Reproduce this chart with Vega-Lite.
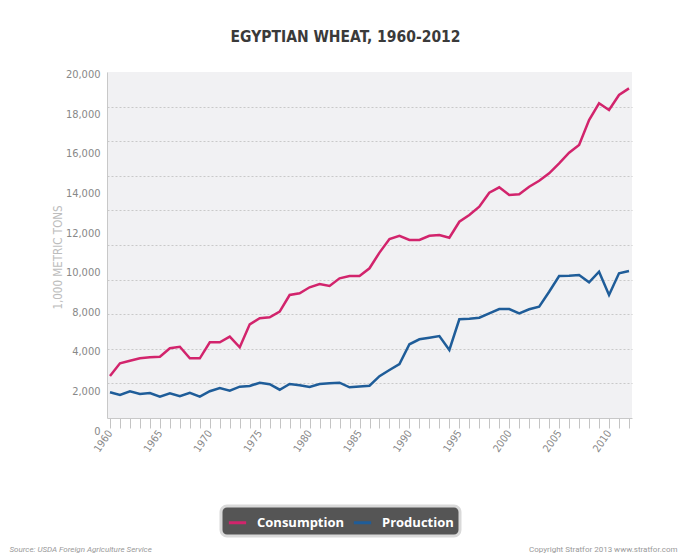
{
  "$schema": "https://vega.github.io/schema/vega-lite/v6.json",
  "width": 525,
  "height": 346,
  "autosize": "none",
  "padding": {"left": 107, "top": 72, "right": 51, "bottom": 140},
  "background": "white",
  "title": {
    "text": "EGYPTIAN WHEAT, 1960-2012",
    "font": "DejaVu Sans Condensed, Roboto, sans-serif",
    "fontSize": 15.5,
    "fontWeight": "bold",
    "color": "#3a3a3a",
    "anchor": "middle",
    "dx": -24,
    "offset": 23
  },
  "data": {
    "values": [
      {"year": 1960, "Consumption": 2430, "Production": 1490},
      {"year": 1961, "Consumption": 3160, "Production": 1330},
      {"year": 1962, "Consumption": 3310, "Production": 1540},
      {"year": 1963, "Consumption": 3450, "Production": 1390},
      {"year": 1964, "Consumption": 3510, "Production": 1445},
      {"year": 1965, "Consumption": 3545, "Production": 1230},
      {"year": 1966, "Consumption": 4030, "Production": 1430},
      {"year": 1967, "Consumption": 4120, "Production": 1255},
      {"year": 1968, "Consumption": 3450, "Production": 1460},
      {"year": 1969, "Consumption": 3450, "Production": 1230},
      {"year": 1970, "Consumption": 4375, "Production": 1545},
      {"year": 1971, "Consumption": 4375, "Production": 1735},
      {"year": 1972, "Consumption": 4700, "Production": 1580},
      {"year": 1973, "Consumption": 4085, "Production": 1810},
      {"year": 1974, "Consumption": 5415, "Production": 1850},
      {"year": 1975, "Consumption": 5765, "Production": 2040},
      {"year": 1976, "Consumption": 5820, "Production": 1950},
      {"year": 1977, "Consumption": 6145, "Production": 1635},
      {"year": 1978, "Consumption": 7110, "Production": 1965},
      {"year": 1979, "Consumption": 7210, "Production": 1890},
      {"year": 1980, "Consumption": 7555, "Production": 1790},
      {"year": 1981, "Consumption": 7745, "Production": 1965},
      {"year": 1982, "Consumption": 7630, "Production": 2005},
      {"year": 1983, "Consumption": 8075, "Production": 2040},
      {"year": 1984, "Consumption": 8210, "Production": 1775},
      {"year": 1985, "Consumption": 8210, "Production": 1820},
      {"year": 1986, "Consumption": 8655, "Production": 1865},
      {"year": 1987, "Consumption": 9560, "Production": 2420},
      {"year": 1988, "Consumption": 10345, "Production": 2775},
      {"year": 1989, "Consumption": 10535, "Production": 3120},
      {"year": 1990, "Consumption": 10290, "Production": 4260},
      {"year": 1991, "Consumption": 10290, "Production": 4550},
      {"year": 1992, "Consumption": 10535, "Production": 4640},
      {"year": 1993, "Consumption": 10575, "Production": 4740},
      {"year": 1994, "Consumption": 10420, "Production": 3930},
      {"year": 1995, "Consumption": 11345, "Production": 5705},
      {"year": 1996, "Consumption": 11735, "Production": 5740},
      {"year": 1997, "Consumption": 12215, "Production": 5795},
      {"year": 1998, "Consumption": 13020, "Production": 6050},
      {"year": 1999, "Consumption": 13335, "Production": 6300},
      {"year": 2000, "Consumption": 12890, "Production": 6300},
      {"year": 2001, "Consumption": 12930, "Production": 6050},
      {"year": 2002, "Consumption": 13370, "Production": 6285},
      {"year": 2003, "Consumption": 13715, "Production": 6435},
      {"year": 2004, "Consumption": 14145, "Production": 7300},
      {"year": 2005, "Consumption": 14720, "Production": 8210},
      {"year": 2006, "Consumption": 15335, "Production": 8225},
      {"year": 2007, "Consumption": 15780, "Production": 8265},
      {"year": 2008, "Consumption": 17225, "Production": 7845},
      {"year": 2009, "Consumption": 18190, "Production": 8455},
      {"year": 2010, "Consumption": 17800, "Production": 7110},
      {"year": 2011, "Consumption": 18670, "Production": 8365},
      {"year": 2012, "Consumption": 19055, "Production": 8495}
    ]
  },
  "encoding": {
    "x": {
      "field": "year",
      "type": "quantitative",
      "scale": {"domain": [1960, 2012], "nice": false, "zero": false, "padding": 3},
      "axis": {
        "values": [1960,1961,1962,1963,1964,1965,1966,1967,1968,1969,1970,1971,1972,1973,1974,1975,1976,1977,1978,1979,1980,1981,1982,1983,1984,1985,1986,1987,1988,1989,1990,1991,1992,1993,1994,1995,1996,1997,1998,1999,2000,2001,2002,2003,2004,2005,2006,2007,2008,2009,2010,2011,2012],
        "labelExpr": "datum.value % 5 == 0 ? '' + datum.value : ''",
        "labelAngle": -55,
        "labelAlign": "right",
        "labelBaseline": "middle",
        "labelPadding": 3,
        "labelFont": "DejaVu Sans Condensed, Roboto, sans-serif",
        "labelFontSize": 10.5,
        "labelColor": "#888888",
        "labelOverlap": false,
        "labelFlush": false,
        "labelBound": false,
        "grid": false,
        "tickSize": 10,
        "tickColor": "#c4c4c4",
        "domainColor": "#c8c8c8",
        "title": "Source: USDA Foreign Agriculture Service",
        "titleX": -98,
        "titleY": 133,
        "titleAlign": "left",
        "titleBaseline": "alphabetic",
        "titleFont": "Roboto",
        "titleFontStyle": "italic",
        "titleFontWeight": "normal",
        "titleFontSize": 8,
        "titleColor": "#999999"
      }
    }
  },
  "layer": [
    {
      "mark": {"type": "line", "strokeWidth": 2.5},
      "encoding": {
        "y": {
          "field": "Consumption",
          "type": "quantitative",
          "scale": {"domain": [0, 20000], "nice": false},
          "axis": {
            "values": [0, 2000, 4000, 6000, 8000, 10000, 12000, 14000, 16000, 18000],
            "labelExpr": "format(datum.value >= 6000 ? datum.value + 2000 : datum.value, ',')",
            "labelOffset": {"expr": "13 - datum.value / 400"},
            "labelFont": "DejaVu Sans Condensed, Roboto, sans-serif",
            "labelFontSize": 11,
            "labelColor": "#888888",
            "labelPadding": 7,
            "labelBound": false,
            "labelFlush": false,
            "labelOverlap": false,
            "ticks": false,
            "domainColor": "#c8c8c8",
            "grid": true,
            "gridColor": "#c9c9c9",
            "gridDash": [2, 2],
            "gridOpacity": {"condition": {"test": "datum.value <= 0", "value": 0}, "value": 1},
            "title": "1,000 METRIC TONS",
            "titleX": -49,
            "titleY": 185,
            "titleAlign": "center",
            "titleBaseline": "middle",
            "titleFont": "DejaVu Sans Condensed, Roboto, sans-serif",
            "titleFontSize": 11.5,
            "titleFontWeight": "normal",
            "titleColor": "#bdbdbd"
          }
        },
        "color": {
          "datum": "Consumption",
          "type": "nominal",
          "scale": {"domain": ["Consumption", "Production"], "range": ["#d2246c", "#1f5d99"]},
          "legend": {
            "title": null,
            "orient": "none",
            "legendX": 114,
            "legendY": 434,
            "direction": "horizontal",
            "columns": 2
          }
        }
      }
    },
    {
      "mark": {"type": "line", "strokeWidth": 2.5},
      "encoding": {
        "y": {
          "field": "Production",
          "type": "quantitative",
          "scale": {"domain": [0, 20000], "nice": false},
          "axis": {
            "orient": "right",
            "labels": false,
            "ticks": false,
            "domain": false,
            "grid": false,
            "title": "Copyright Stratfor 2013   www.stratfor.com",
            "titleAngle": 0,
            "titleX": 45,
            "titleY": 479,
            "titleAlign": "right",
            "titleBaseline": "alphabetic",
            "titleFont": "Roboto",
            "titleFontSize": 8,
            "titleFontWeight": "normal",
            "titleColor": "#999999"
          }
        },
        "color": {
          "datum": "Production",
          "type": "nominal",
          "scale": {"domain": ["Consumption", "Production"], "range": ["#d2246c", "#1f5d99"]}
        }
      }
    }
  ],
  "resolve": {"scale": {"y": "independent"}},
  "config": {
    "view": {"fill": "#f1f1f3", "stroke": null},
    "legend": {
      "fillColor": "#555555",
      "strokeColor": "#d9d9d9",
      "strokeWidth": 3,
      "cornerRadius": 6,
      "padding": 6,
      "labelColor": "#ffffff",
      "labelFont": "Open Sans",
      "labelFontSize": 13,
      "labelFontWeight": "bold",
      "symbolType": "stroke",
      "symbolStrokeWidth": 3,
      "symbolSize": 300,
      "columnPadding": 2,
      "labelOffset": 9
    }
  }
}
